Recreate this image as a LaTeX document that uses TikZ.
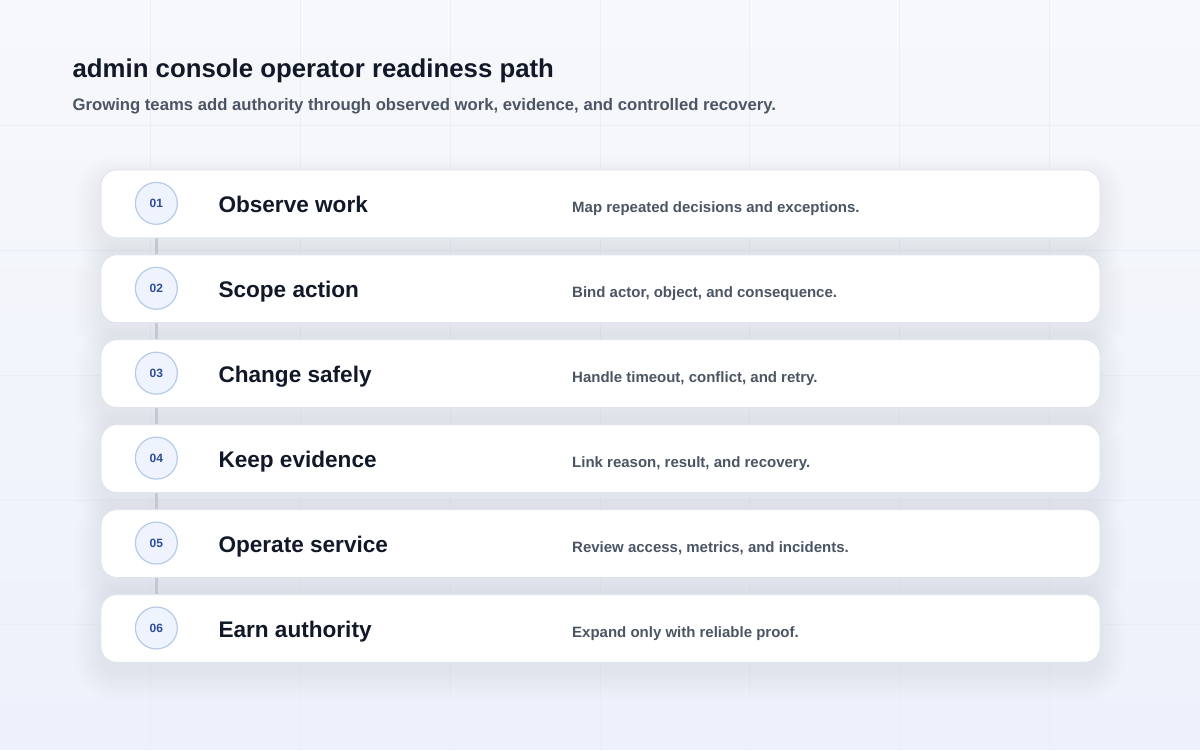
\documentclass[tikz,border=0pt]{standalone}
\usepackage{fontspec}
\setmainfont{Liberation Sans}
\usetikzlibrary{positioning,calc}
\definecolor{bgA}{HTML}{F7F8FB}
\definecolor{bgB}{HTML}{ECF1FB}
\definecolor{gridc}{HTML}{EBEEF5}
\definecolor{shadc}{HTML}{7A86A8}
\definecolor{cardline}{HTML}{E0E4EC}
\definecolor{ink}{HTML}{111827}
\definecolor{slate}{HTML}{4B5563}
\definecolor{circfill}{HTML}{EEF3FD}
\definecolor{circline}{HTML}{B7CAE8}
\definecolor{numc}{HTML}{2F4C98}
\definecolor{connc}{HTML}{C4C8D2}
\pgfdeclarelayer{back}
\pgfdeclarelayer{shad}
\pgfdeclarelayer{conn}
\pgfsetlayers{back,shad,conn,main}
\tikzset{
  card/.style={draw=cardline, line width=1pt, fill=white, rounded corners=16pt,
    minimum width=1000pt, minimum height=68pt, inner sep=0pt, anchor=north west},
  badge/.style={circle, draw=circline, line width=1.2pt, fill=circfill,
    minimum size=42pt, inner sep=0pt, text=numc, font=\fontsize{12}{14}\selectfont\bfseries},
  steptitle/.style={anchor=base west, inner sep=0pt, text=ink, font=\fontsize{22.6}{26}\selectfont\bfseries},
  stepdesc/.style={anchor=base west, inner sep=0pt, text=slate, font=\fontsize{15}{18}\selectfont\bfseries},
  connector/.style={draw=connc, line width=3.5pt},
}
\begin{document}
\begin{tikzpicture}[x=1pt,y=-1pt]
\begin{pgfonlayer}{back}
  \shade[left color=bgA, right color=bgB, shading angle=0] (0,0) rectangle (1200,750);
  \shade[top color=bgA, bottom color=bgB, opacity=0.6] (0,0) rectangle (1200,750);
  \foreach \gx in {150,300,...,1050} \draw[gridc, line width=1pt] (\gx,0) -- (\gx,750);
  \foreach \gy in {125,250,...,625} \draw[gridc, line width=1pt] (0,\gy) -- (1200,\gy);
\end{pgfonlayer}
\useasboundingbox (0,0) rectangle (1200,750);

\node[anchor=base west, inner sep=0pt, text=ink, font=\fontsize{25.8}{30}\selectfont\bfseries] (title) at (72,77) {admin console operator readiness path};
\node[anchor=base west, inner sep=0pt, text=slate, font=\fontsize{16.7}{20}\selectfont\bfseries] (subtitle) at (72,110) {Growing teams add authority through observed work, evidence, and controlled recovery.};

\foreach \i/\num/\ttl/\dsc in {
  1/01/Observe work/Map repeated decisions and exceptions.,
  2/02/Scope action/{Bind actor, object, and consequence.},
  3/03/Change safely/{Handle timeout, conflict, and retry.},
  4/04/Keep evidence/{Link reason, result, and recovery.},
  5/05/Operate service/{Review access, metrics, and incidents.},
  6/06/Earn authority/Expand only with reliable proof.}{
  \pgfmathsetmacro{\top}{169+(\i-1)*85}
  \pgfmathsetmacro{\mid}{\top+34}
  \begin{pgfonlayer}{shad}
    \foreach \k in {0,...,13}{
      \fill[shadc, opacity=0.009, rounded corners={16pt+\k*2pt}]
        (100-\k*2, \top+12-\k*2) rectangle (1100+\k*2, \top+80+\k*2);
    }
  \end{pgfonlayer}
  \node[card] (card\i) at (100,\top) {};
  \node[badge] (b\i) at (156,\mid) {\num};
  \node[steptitle] (t\i) at (218,\mid+9.5) {\ttl};
  \node[stepdesc] (d\i) at (572,\mid+9.5) {\dsc};
}
\begin{pgfonlayer}{conn}
  \foreach \i [evaluate=\i as \j using int(\i+1)] in {1,...,5}
    \draw[connector] (b\i) -- (b\j);
\end{pgfonlayer}
\end{tikzpicture}
\end{document}
